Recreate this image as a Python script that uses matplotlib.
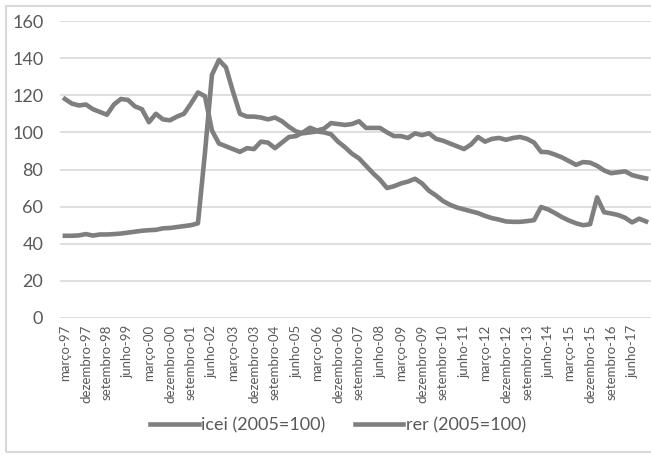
import matplotlib.pyplot as plt
from matplotlib.patches import Rectangle

plt.rcParams['font.family'] = ['Lato', 'DejaVu Sans']

# quarterly series, março-97 .. dezembro-17
icei = [44.3, 44.3, 44.5, 45.2, 44.4, 45.0, 45.0, 45.2, 45.5, 46.0,
        46.5, 47.0, 47.3, 47.5, 48.3, 48.5, 49.0, 49.5, 50.0, 51.0,
        89.0, 131.0, 139.0, 135.0, 122.0, 110.0, 108.5, 108.5, 108.0, 107.0,
        108.0, 106.0, 103.0, 100.5, 99.5, 100.0, 100.5, 100.0, 99.0, 95.0,
        92.0, 88.5, 86.0, 82.0, 78.0, 74.5, 70.0, 71.0, 72.5, 73.5,
        75.0, 72.5, 68.5, 66.0, 63.0, 61.0, 59.5, 58.5, 57.5, 56.5,
        55.0, 53.8, 53.0, 52.0, 51.8, 51.8, 52.2, 52.7, 59.8, 58.5,
        56.5, 54.3, 52.5, 51.0, 50.0, 50.5, 65.0, 57.0, 56.3, 55.5,
        54.0, 51.5, 53.5, 52.0]
rer = [118.0, 115.5, 114.5, 115.0, 112.5, 111.0, 109.5, 115.0, 118.0, 117.5,
       114.0, 112.5, 105.5, 110.0, 107.0, 106.5, 108.5, 110.0, 115.5, 121.5,
       119.5, 101.0, 94.0, 92.5, 91.0, 89.5, 91.5, 91.0, 95.0, 94.5,
       91.5, 94.5, 97.5, 98.0, 100.0, 102.5, 101.0, 102.0, 105.0, 104.5,
       104.0, 104.5, 106.0, 102.4, 102.4, 102.4, 100.0, 98.0, 98.0, 97.0,
       99.5, 98.5, 99.5, 96.5, 95.5, 94.0, 92.5, 91.0, 93.5, 97.5,
       95.0, 96.5, 97.0, 96.0, 97.0, 97.5, 96.5, 94.5, 89.5, 89.3,
       88.0, 86.5, 84.5, 82.5, 84.0, 83.7, 82.0, 79.5, 78.0, 78.5,
       79.0, 77.0, 76.0, 75.2]

months = ["março", "junho", "setembro", "dezembro"]
quarters = [f"{months[q % 4]}-{(97 + q // 4) % 100:02d}" for q in range(len(icei))]

W, H = 651, 457
fig = plt.figure(figsize=(W / 100, H / 100), dpi=100)
ax = fig.add_axes([60 / W, 1 - 318 / H, (W - 60) / W, (318 - 21) / H])

grey = "#7f7f7f"
x = list(range(len(icei)))
ax.plot(x, icei, color=grey, lw=3.3, label="icei (2005=100)", solid_joinstyle="round")
ax.plot(x, rer, color=grey, lw=3.3, label="rer (2005=100)", solid_joinstyle="round")

ax.set_ylim(0, 160)
ax.set_xlim(-0.7, 83.7)
ax.set_yticks(range(0, 161, 20))
ax.yaxis.grid(True, color="#d9d9d9", lw=1.2)
ax.set_axisbelow(True)
for s in ax.spines.values():
    s.set_visible(False)
ax.tick_params(length=0)
ax.tick_params(axis="y", labelsize=13, labelcolor="#595959", pad=12)
ax.set_xticks(x[::3])
ax.set_xticklabels(quarters[::3], rotation=90, fontsize=9.5, color="#595959")
ax.tick_params(axis="x", pad=5)

fig.legend(loc="center", bbox_to_anchor=(338 / W, 1 - 425 / H), ncol=2, frameon=False,
           fontsize=13, handlelength=2.7, handletextpad=0.15, columnspacing=1.6,
           labelcolor="#595959")

fig.add_artist(Rectangle((6 / W, 1 - 452 / H), (W + 10) / W, (452 - 6) / H,
                         transform=fig.transFigure, fill=False,
                         edgecolor="#d9d9d9", lw=1.5))

fig.savefig("out.png", dpi=100)
